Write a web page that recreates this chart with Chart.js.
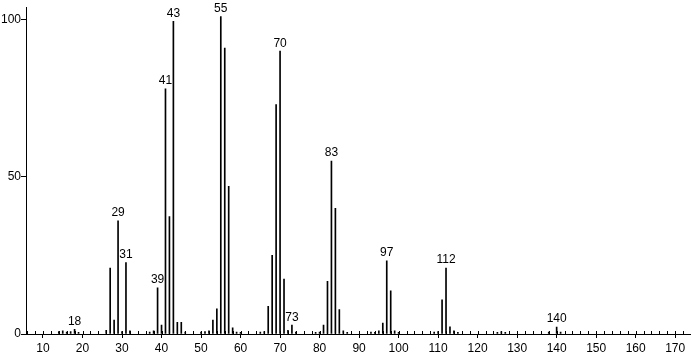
<!DOCTYPE html>
<html>
<head>
<meta charset="utf-8">
<script src="https://cdn.jsdelivr.net/npm/chart.js@4"></script>
<style>
  html, body { margin: 0; padding: 0; background: #fff; }
  #wrap { width: 691px; height: 353px; }
</style>
</head>
<body>
<div id="wrap"><canvas id="espectro"></canvas></div>
<script>
// m/z y abundancia relativa
const masas = [14, 15, 16, 17, 18, 19, 26, 27, 28, 29, 30, 31, 32, 37, 38, 39, 40, 41, 42, 43, 44, 45, 46,
  50, 51, 52, 53, 54, 55, 56, 57, 58, 59, 60, 65, 66, 67, 68, 69, 70, 71, 72, 73, 74, 79, 80, 81, 82, 83, 84,
  85, 86, 87, 93, 94, 95, 96, 97, 98, 99, 100, 109, 110, 111, 112, 113, 114, 115, 125, 126, 127, 138, 140, 141];
const intensidades = [0.8, 1, 0.6, 0.8, 1.5, 0.5, 1.2, 21, 4.4, 36, 0.8, 22.7, 1, 0.6, 1, 14.7, 2.8, 78, 37.4, 99.5, 3.7, 3.7, 0.6,
  0.6, 0.8, 1, 4.4, 8, 101, 91, 47, 2, 0.6, 0.5, 0.6, 0.8, 8.8, 25, 73, 90, 17.5, 1.2, 2.8, 0.6, 0.5, 0.6, 2.8, 16.8, 55, 40,
  7.8, 1, 0.5, 0.6, 0.5, 1, 3.5, 23.3, 13.7, 1, 0.5, 0.6, 0.8, 10.9, 21, 2.3, 1, 0.5, 0.5, 0.8, 0.5, 0.6, 2.2, 0.6];
const etiquetas = [18, 29, 31, 39, 41, 43, 55, 70, 73, 83, 97, 112, 140];

const fuente = '"Liberation Sans", Arial, sans-serif';

// numeros encima de los picos
const etiquetasPicos = {
  id: 'etiquetasPicos',
  afterDatasetsDraw(chart) {
    const ctx = chart.ctx;
    const meta = chart.getDatasetMeta(0);
    ctx.save();
    ctx.fillStyle = '#000';
    ctx.font = '12px ' + fuente;
    ctx.textAlign = 'center';
    ctx.textBaseline = 'bottom';
    etiquetas.forEach(m => {
      const i = masas.indexOf(m);
      const bar = meta.data[i];
      ctx.fillText(String(m), bar.x, bar.y - 2);
    });
    ctx.restore();
  }
};

// marcas cortas hacia arriba cada 2 unidades
const marcasMenores = {
  id: 'marcasMenores',
  afterDraw(chart) {
    const x = chart.scales.x;
    const y0 = chart.chartArea.bottom;
    const ctx = chart.ctx;
    ctx.save();
    ctx.strokeStyle = '#000';
    ctx.lineWidth = 1;
    ctx.beginPath();
    for (let v = 6; v <= 174; v += 2) {
      const px = Math.round(x.getPixelForValue(v)) + 0.5;
      ctx.moveTo(px, y0);
      ctx.lineTo(px, y0 - 3);
    }
    ctx.stroke();
    ctx.restore();
  }
};

new Chart(document.getElementById('espectro'), {
  type: 'bar',
  data: {
    datasets: [{
      data: masas.map((m, i) => ({ x: m, y: intensidades[i] })),
      backgroundColor: '#000',
      borderWidth: 0,
      barThickness: 1,
      grouped: false
    }]
  },
  options: {
    responsive: true,
    maintainAspectRatio: false,
    animation: false,
    layout: { padding: 0 },
    plugins: {
      legend: { display: false },
      tooltip: { enabled: false }
    },
    scales: {
      x: {
        type: 'linear',
        offset: false,
        min: 5.7,
        max: 174,
        afterFit(scale) { scale.height = 19; },
        border: { display: true, color: '#000', width: 1 },
        grid: { display: true, offset: false, drawOnChartArea: false, drawTicks: true, tickLength: 4, color: '#000' },
        ticks: {
          stepSize: 10,
          includeBounds: false,
          maxRotation: 0,
          autoSkip: false,
          padding: 3,
          color: '#000',
          font: { family: fuente, size: 12 }
        }
      },
      y: {
        min: 0,
        max: 104,
        afterFit(scale) { scale.width = 26; },
        border: { display: true, color: '#000', width: 1 },
        grid: { display: true, drawOnChartArea: false, drawTicks: true, tickLength: 5, color: '#000' },
        ticks: {
          stepSize: 50,
          includeBounds: false,
          padding: 0,
          color: '#000',
          font: { family: fuente, size: 12 }
        }
      }
    }
  },
  plugins: [etiquetasPicos, marcasMenores]
});
</script>
</body>
</html>
